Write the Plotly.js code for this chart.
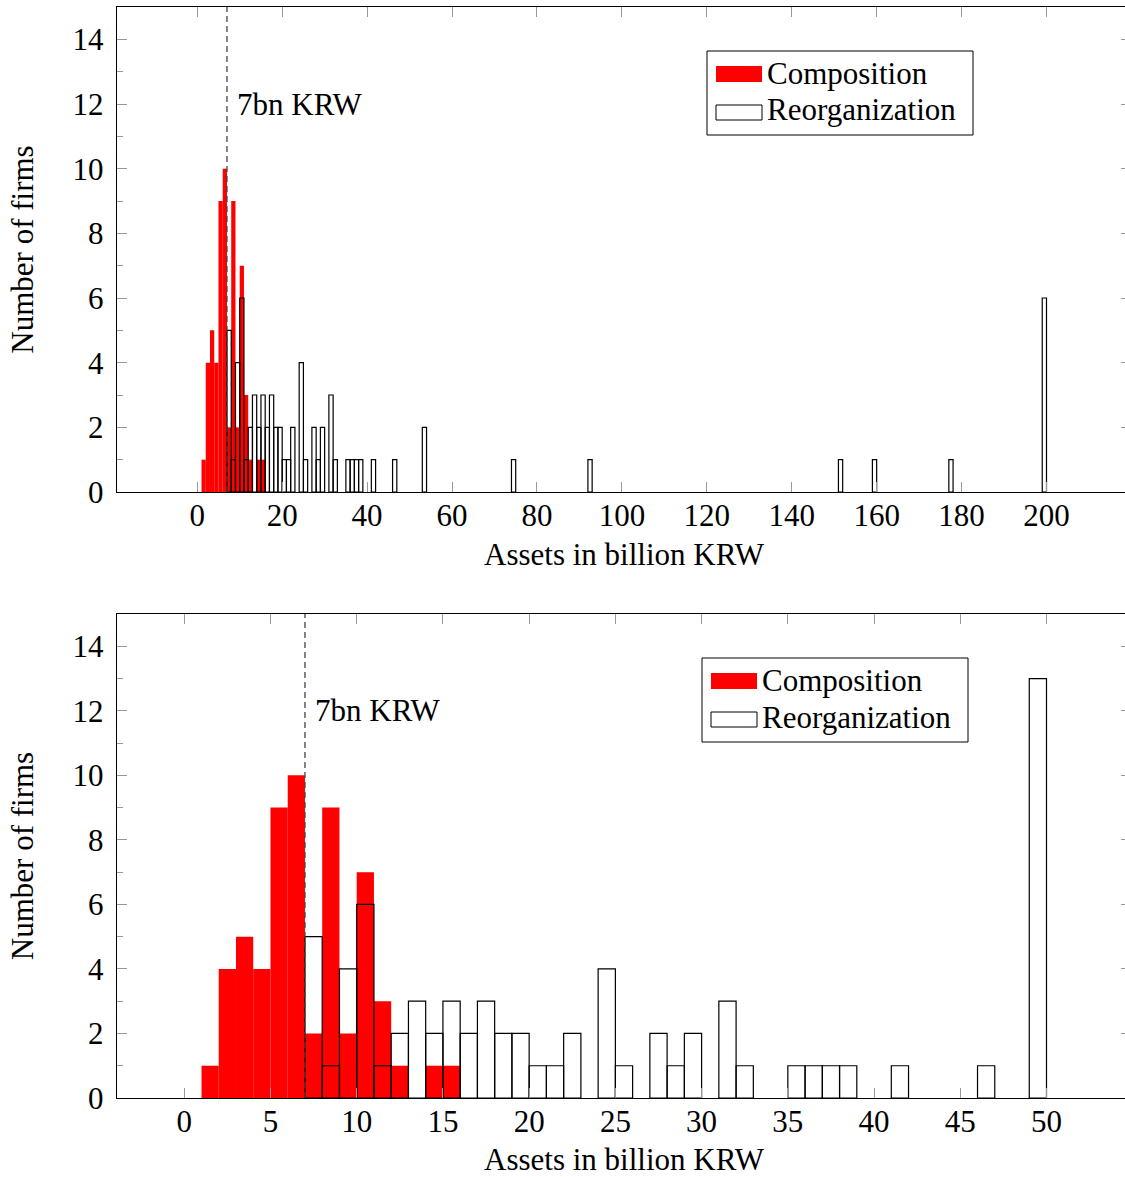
<!DOCTYPE html>
<html>
<head>
<meta charset="utf-8">
<script src="https://cdn.plot.ly/plotly-3.0.1.min.js"></script>
<style>
html, body { margin: 0; padding: 0; overflow: hidden; background: #fff; }
#chart { width: 1140px; height: 1177px; }
</style>
</head>
<body>
<div id="chart"></div>
<script>
// ---- Data (bin left edges, width 1 billion KRW) ----
const compBins   = [1, 2, 3, 4, 5, 6, 7, 8, 9, 10, 11, 12, 13, 14, 15];
const compCounts = [1, 4, 5, 4, 9, 10, 2, 9, 2, 7, 3, 1, 0, 1, 1];

// full range (top panel)
const reorgBins   = [7, 8, 9, 10, 11, 12, 13, 14, 15, 16, 17, 18, 19, 20, 21, 22, 24, 25, 27, 28, 29, 31, 32, 35, 36, 37, 38, 41, 46, 53, 74, 92, 151, 159, 177, 199];
const reorgCounts = [5, 1, 4, 6, 1, 2, 3, 2, 3, 2, 3, 2, 2, 1, 1, 2, 4, 1, 2, 1, 2, 3, 1, 1, 1, 1, 1, 1, 1, 2, 1, 1, 1, 1, 1, 6];

// truncated at 50 (bottom panel)
const reorgZoomBins   = [7, 8, 9, 10, 11, 12, 13, 14, 15, 16, 17, 18, 19, 20, 21, 22, 24, 25, 27, 28, 29, 31, 32, 35, 36, 37, 38, 41, 46, 49];
const reorgZoomCounts = [5, 1, 4, 6, 1, 2, 3, 2, 3, 2, 3, 2, 2, 1, 1, 2, 4, 1, 2, 1, 2, 3, 1, 1, 1, 1, 1, 1, 1, 13];

const threshold = 7;
const thresholdLabel = "7bn KRW";
const topTicks    = [0, 20, 40, 60, 80, 100, 120, 140, 160, 180, 200];
const bottomTicks = [0, 5, 10, 15, 20, 25, 30, 35, 40, 45, 50];
const yTicks      = [0, 2, 4, 6, 8, 10, 12, 14];
const seriesNames = ["Composition", "Reorganization"];
const xTitle = "Assets in billion KRW";
const yTitle = "Number of firms";

// ---- Layout geometry ----
const W = 1140, H = 1177;
const ML = 117, MR = 9, MT = 7, MB = 79;
const plotW = W - ML - MR, plotH = H - MT - MB;
const bottomPx = H - MB;
const px2x = p => (p - ML) / plotW;
const py2y = p => (bottomPx - p) / plotH;

const FONT = "Liberation Serif, Times New Roman, serif";
const FS = 31;

function barTraces(xa, ya, rBins, rCounts) {
  return [
    {
      type: "bar", x: compBins, y: compCounts, width: 1, offset: 0,
      xaxis: xa, yaxis: ya, name: seriesNames[0], showlegend: false,
      marker: { color: "#ff0000", line: { width: 0 } }
    },
    {
      type: "bar", x: rBins, y: rCounts, width: 1, offset: 0,
      xaxis: xa, yaxis: ya, name: seriesNames[1], showlegend: false,
      marker: { color: "rgba(0,0,0,0)", line: { color: "#000", width: 1.2 } }
    }
  ];
}

const data = [
  ...barTraces("x", "y", reorgBins, reorgCounts),
  ...barTraces("x2", "y2", reorgZoomBins, reorgZoomCounts)
];

function xaxis(range, ticks, anchor) {
  return {
    range: range, anchor: anchor, domain: [0, 1],
    tickmode: "array", tickvals: ticks, ticktext: ticks.map(String),
    ticks: "inside", ticklen: 10, tickcolor: "#999", tickwidth: 1,
    showline: true, linecolor: "#000", linewidth: 1.3, mirror: "allticks",
    showgrid: false, zeroline: false,
    tickfont: { family: FONT, size: FS, color: "#000" },
    ticklabelstandoff: -5,
    title: { text: xTitle, font: { family: FONT, size: FS, color: "#000" }, standoff: 11 }
  };
}
function yaxis(domain, anchor) {
  return {
    range: [0, 15], anchor: anchor, domain: domain,
    tickmode: "array", tickvals: yTicks, ticktext: yTicks.map(String),
    ticks: "inside", ticklen: 10, tickcolor: "#999", tickwidth: 1,
    minor: { dtick: 1, ticks: "inside", ticklen: 6, tickcolor: "#999", tickwidth: 1, showgrid: false },
    showline: true, linecolor: "#000", linewidth: 1.3, mirror: "allticks",
    showgrid: false, zeroline: false,
    tickfont: { family: FONT, size: FS, color: "#000" },
    ticklabelstandoff: 6,
    title: { text: yTitle, font: { family: FONT, size: FS, color: "#000" }, standoff: 29 }
  };
}

const shapes = [];
const annotations = [];

// threshold lines + labels
[["x", "y"], ["x2", "y2"]].forEach(([xa, ya]) => {
  shapes.push({
    type: "line", xref: xa, yref: ya + " domain", x0: threshold, x1: threshold, y0: 0, y1: 1,
    line: { color: "#444", width: 1.3, dash: "6px,4px" }, layer: "above"
  });
  annotations.push({
    xref: xa, yref: ya, x: threshold, y: 12, text: thresholdLabel, showarrow: false,
    xanchor: "left", yanchor: "middle", xshift: 8,
    font: { family: FONT, size: FS, color: "#000" }
  });
});

// custom legends (pgfplots style)
function addLegend(leftPx, topPx) {
  const bw = 266, bh = 84;
  shapes.push({ type: "rect", xref: "paper", yref: "paper",
    x0: px2x(leftPx), x1: px2x(leftPx + bw), y0: py2y(topPx + bh), y1: py2y(topPx),
    line: { color: "#000", width: 1 }, fillcolor: "#fff", layer: "above" });
  shapes.push({ type: "rect", xref: "paper", yref: "paper",
    x0: px2x(leftPx + 9), x1: px2x(leftPx + 55), y0: py2y(topPx + 31), y1: py2y(topPx + 15),
    line: { width: 0 }, fillcolor: "#ff0000", layer: "above" });
  shapes.push({ type: "rect", xref: "paper", yref: "paper",
    x0: px2x(leftPx + 9), x1: px2x(leftPx + 55), y0: py2y(topPx + 69), y1: py2y(topPx + 54),
    line: { color: "#000", width: 1 }, fillcolor: "#fff", layer: "above" });
  [[seriesNames[0], 22], [seriesNames[1], 59]].forEach(([t, dy]) => {
    annotations.push({ xref: "paper", yref: "paper", x: px2x(leftPx + 58), y: py2y(topPx + dy),
      text: t, showarrow: false, xanchor: "left", yanchor: "middle",
      font: { family: FONT, size: FS, color: "#000" } });
  });
}
addLegend(707, 51);
addLegend(702, 658);

const layout = {
  width: W, height: H,
  margin: { l: ML, r: MR, t: MT, b: MB, autoexpand: false },
  paper_bgcolor: "#fff", plot_bgcolor: "#fff",
  barmode: "overlay", showlegend: false,
  xaxis: xaxis([-18.9, 219.9], topTicks, "y"),
  yaxis: yaxis([py2y(492), 1], "x"),
  xaxis2: xaxis([-3.9, 54.9], bottomTicks, "y2"),
  yaxis2: yaxis([0, py2y(614)], "x2"),
  shapes: shapes,
  annotations: annotations
};

Plotly.newPlot("chart", data, layout, { displayModeBar: false, staticPlot: true });
</script>
</body>
</html>
